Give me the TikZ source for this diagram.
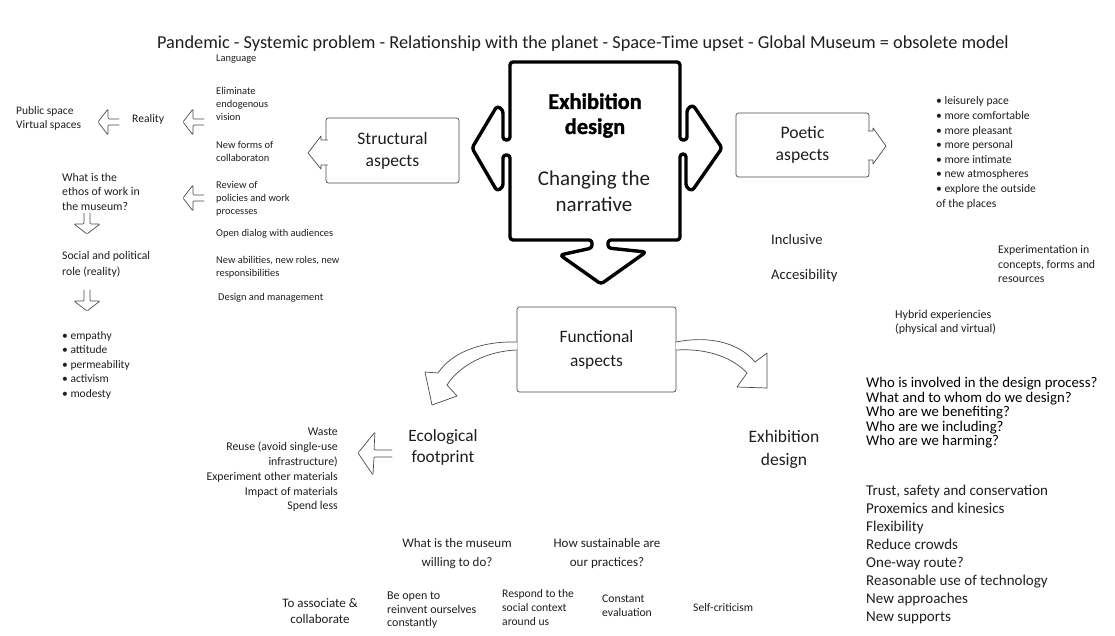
\documentclass[tikz,border=0pt]{standalone}
\usepackage{fontspec}
\setmainfont{Carlito}
\definecolor{ink}{HTML}{1E1E1E}
\definecolor{edge}{HTML}{4A4A4A}
\newcommand\fsz[2]{\fontsize{#1}{#2}\selectfont}

\begin{document}
\begin{tikzpicture}[x=1pt,y=-1pt,line cap=round,line join=round,
    txt/.style={inner sep=0pt,text=ink,align=left,anchor=west},
    mid/.style={inner sep=0pt,text=ink,align=center,anchor=center},
    box/.style={draw=edge,line width=0.7pt,rounded corners=2.5pt,inner sep=0pt,text=ink,align=center},
    edge line/.style={draw=edge,line width=0.7pt},
    hollow arrow/.pic={\draw[edge line,rounded corners=1pt] (21,-3) -- (10,-3) -- (10,-13) -- (0,0) -- (10,13) -- (10,3) -- (21,3);}]
        \useasboundingbox (0,0) rectangle (1115,635);

        \node[mid,font=\fsz{18.3}{20}] (title) at (583,44) {Pandemic - Systemic problem - Relationship with the planet - Space-Time upset - Global Museum = obsolete model};

        % structural side
        \node[txt,font=\fsz{10.4}{13}] (lang) at (216,59) {Language};
        \node[txt,font=\fsz{10.4}{13}] (elim) at (216,104) {Eliminate\\endogenous\\vision};
        \node[txt,font=\fsz{10.4}{13}] (forms) at (216,151.5) {New forms of\\collaboraton};
        \node[txt,font=\fsz{10.4}{13}] (review) at (216,199) {Review of\\policies and work\\processes};
        \node[txt,font=\fsz{10.4}{13}] (dialog) at (216,234) {Open dialog with audiences};
        \node[txt,font=\fsz{10.4}{13}] (abil) at (216,267) {New abilities, new roles, new\\responsibilities};
        \node[txt,font=\fsz{10.4}{13}] (mgmt) at (218,298) {Design and management};

        \node[txt,font=\fsz{11.5}{14}] (public) at (16,118) {Public space\\Virtual spaces};
        \node[txt,font=\fsz{11.6}{14}] (reality) at (132,119) {Reality};
        \node[txt,font=\fsz{11.8}{14.5}] (ethos) at (62,191.5) {What is the\\ethos of work in\\the museum?};
        \node[txt,font=\fsz{11.7}{16}] (social) at (62,264) {Social and political\\role (reality)};
        \node[txt,font=\fsz{11.5}{14.5}] (values) at (62,365) {• empathy\\• attitude\\• permeability\\• activism\\• modesty};

        \pic at (98,122) {hollow arrow};
        \pic at (183,122) {hollow arrow};
        \pic at (183,198) {hollow arrow};
        \pic[rotate=90] at (87,234) {hollow arrow};
        \pic[rotate=90] at (87,311) {hollow arrow};

        \node[box,minimum width=133pt,minimum height=65pt,font=\fsz{17.6}{22}] (struct) at (392.5,150.5) {Structural\\aspects};
        \draw[edge line,fill=white] (327.5,140) -- (321,140) -- (321,136) -- (308,153) -- (321,169) -- (321,165) -- (327.5,165);

        % centre
        \draw[line width=3.4pt,rounded corners=3pt] (510,62) -- (680,62) -- (680,140) -- (687,140) -- (687,109) -- (693,105)
            -- (722,148) -- (692,191) -- (686,187) -- (686,154) -- (680,154) -- (680,240)
            -- (608,240) -- (608,248) -- (646,252) -- (601,284) -- (560,255) -- (592,248) -- (592,240)
            -- (510,240) -- (510,155) -- (503,155) -- (503,187) -- (497,191) -- (472,148) -- (497,106) -- (503,110)
            -- (503,140) -- (510,140) -- cycle;
        \node[mid,text=black,font=\bfseries\fsz{22.4}{25}\addfontfeature{FakeBold=1.3}] (exhib) at (595,115.5) {Exhibition\\design};
        \node[mid,font=\fsz{21}{26}] (narr) at (594,191) {Changing the\\narrative};

        % poetic side
        \node[box,minimum width=133pt,minimum height=64pt,font=\fsz{17.6}{22}] (poetic) at (802.5,145) {Poetic\\aspects};
        \draw[edge line,fill=white] (868,131) -- (873,131) -- (873,128) -- (886,146) -- (873,164) -- (873,160) -- (868,160);
        \node[txt,font=\fsz{11.6}{14.6}] (poetlist) at (936,153) {• leisurely pace\\• more comfortable\\• more pleasant\\• more personal\\• more intimate\\• new atmospheres\\• explore the outside\\of the places};
        \node[txt,font=\fsz{14.6}{16}] (incl) at (771,239) {Inclusive};
        \node[txt,font=\fsz{14.6}{16}] (acces) at (771,276) {Accesibility};
        \node[txt,font=\fsz{11.8}{14.7}] (exper) at (998,264) {Experimentation in\\concepts, forms and\\resources};
        \node[txt,font=\fsz{12}{14}] (hybrid) at (895,322) {Hybrid experiencies\\(physical and virtual)};

        % functional side
        \node[box,minimum width=159pt,minimum height=85pt,font=\fsz{17.4}{24}] (func) at (596.5,349.5) {Functional\\aspects};
        \draw[edge line,fill=white] (517,342) .. controls (482,341) and (452,352) .. (438,373) -- (425,372) -- (432,405)
            -- (457,396) -- (447,385) .. controls (459,366) and (486,351) .. (517,350);
        \draw[edge line,fill=white] (676,342) .. controls (712,335) and (740,344) .. (755,362) -- (767,353) -- (767,388)
            -- (737,387) -- (747,373) .. controls (734,359) and (710,348) .. (676,350);

        \node[mid,font=\fsz{17.3}{21}] (eco) at (443,447.5) {Ecological\\footprint};
        \draw[edge line,rounded corners=1pt] (392,450) -- (374,450) -- (375,432) -- (358,453) -- (373,475) -- (374,457) -- (392,457);
        \node[inner sep=0pt,text=ink,align=right,anchor=east,font=\fsz{11.8}{14.8}] (ecolist) at (338,470) {Waste\\Reuse (avoid single-use\\infrastructure)\\Experiment other materials\\Impact of materials\\Spend less};

        \node[mid,font=\fsz{17.5}{23}] (exdes) at (784,449.5) {Exhibition\\design};
        \node[txt,text=black,font=\fsz{14.8}{14.5}] (quest) at (866,413) {Who is involved in the design process?\\What and to whom do we design?\\Who are we benefiting?\\Who are we including?\\Who are we harming?};
        \node[txt,font=\fsz{15}{18}] (trust) at (866,554.5) {Trust, safety and conservation\\Proxemics and kinesics\\Flexibility\\Reduce crowds\\One-way route?\\Reasonable use of technology\\New approaches\\New supports};

        % bottom row
        \node[mid,font=\fsz{13}{19}] (willing) at (457,553.5) {What is the museum\\willing to do?};
        \node[mid,font=\fsz{13}{19}] (sustain) at (607,553.5) {How sustainable are\\our practices?};
        \node[mid,font=\fsz{13}{16}] (assoc) at (320,611) {To associate \&\\collaborate};
        \node[txt,font=\fsz{12}{13.5}] (open) at (387,610.5) {Be open to\\reinvent ourselves\\constantly};
        \node[txt,font=\fsz{11.6}{14}] (respond) at (502,608) {Respond to the\\social context\\around us};
        \node[txt,font=\fsz{11.7}{14}] (evalu) at (602,606) {Constant\\evaluation};
        \node[txt,font=\fsz{11.6}{14}] (selfcrit) at (693,608) {Self-criticism};
\end{tikzpicture}
\end{document}
